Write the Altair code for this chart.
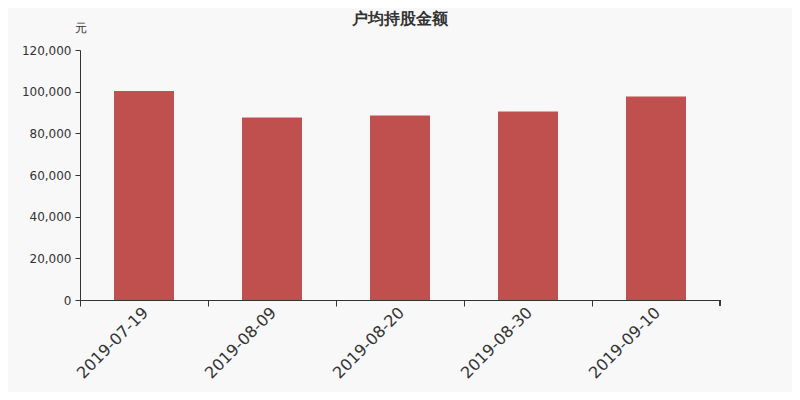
import altair as alt
import pandas as pd

dates = ["2019-07-19", "2019-08-09", "2019-08-20", "2019-08-30", "2019-09-10"]
values = [100300, 87600, 88600, 90500, 97700]

df = pd.DataFrame({"date": dates, "value": values})

FONT = "DejaVu Sans"
AXC = "#333333"

xscale = alt.Scale(paddingInner=0, paddingOuter=0)

bars = alt.Chart(df).mark_bar(size=60, color="#c0504d").encode(
    x=alt.X("date:N", scale=xscale, sort=None,
            axis=alt.Axis(title=None, orient="bottom", labelAngle=-45, labelFontSize=16, labelColor=AXC,
                          labelFont=FONT, ticks=False, domainColor=AXC, labelPadding=4, labelOffset=-4,
                          labelAlign="right", labelBaseline="top")),
    y=alt.Y("value:Q", scale=alt.Scale(domain=[0, 120000]),
            axis=alt.Axis(title="元", titleAngle=0, titleX=0, titleY=-16, titleAlign="center",
                          titleFontWeight="normal", titleFontSize=12, titleColor=AXC, titleFont=FONT,
                          values=[0, 20000, 40000, 60000, 80000, 100000, 120000],
                          format=",d", labelFontSize=12, labelColor=AXC, labelFont=FONT,
                          grid=False, domainColor=AXC, tickColor=AXC, tickSize=5, labelPadding=4)),
)

ticks = alt.Chart(df).mark_bar(opacity=0).encode(
    x=alt.X("date:N", scale=xscale, sort=None,
            axis=alt.Axis(title=None, orient="bottom", labels=False, domain=False, ticks=True,
                          bandPosition=0, tickColor=AXC, tickSize=6)),
)

endtick = alt.Chart(df).mark_rule(color=AXC).encode(
    x=alt.value(640), y=alt.value(250), y2=alt.value(256)
)

chart = alt.layer(bars, ticks, endtick).resolve_axis(x="independent").properties(
    width=640, height=250,
    autosize=alt.AutoSizeParams(type="none"),
    padding={"left": 72, "top": 42, "right": 72, "bottom": 92},
    background="#f8f8f8",
    title=alt.TitleParams("户均持股金额", fontSize=16, fontWeight="bold", color=AXC,
                          font=FONT, anchor="middle", offset=8, dy=14),
).configure_view(stroke=None)

chart.save("out.html", embed_options={"renderer": "svg", "actions": False})
